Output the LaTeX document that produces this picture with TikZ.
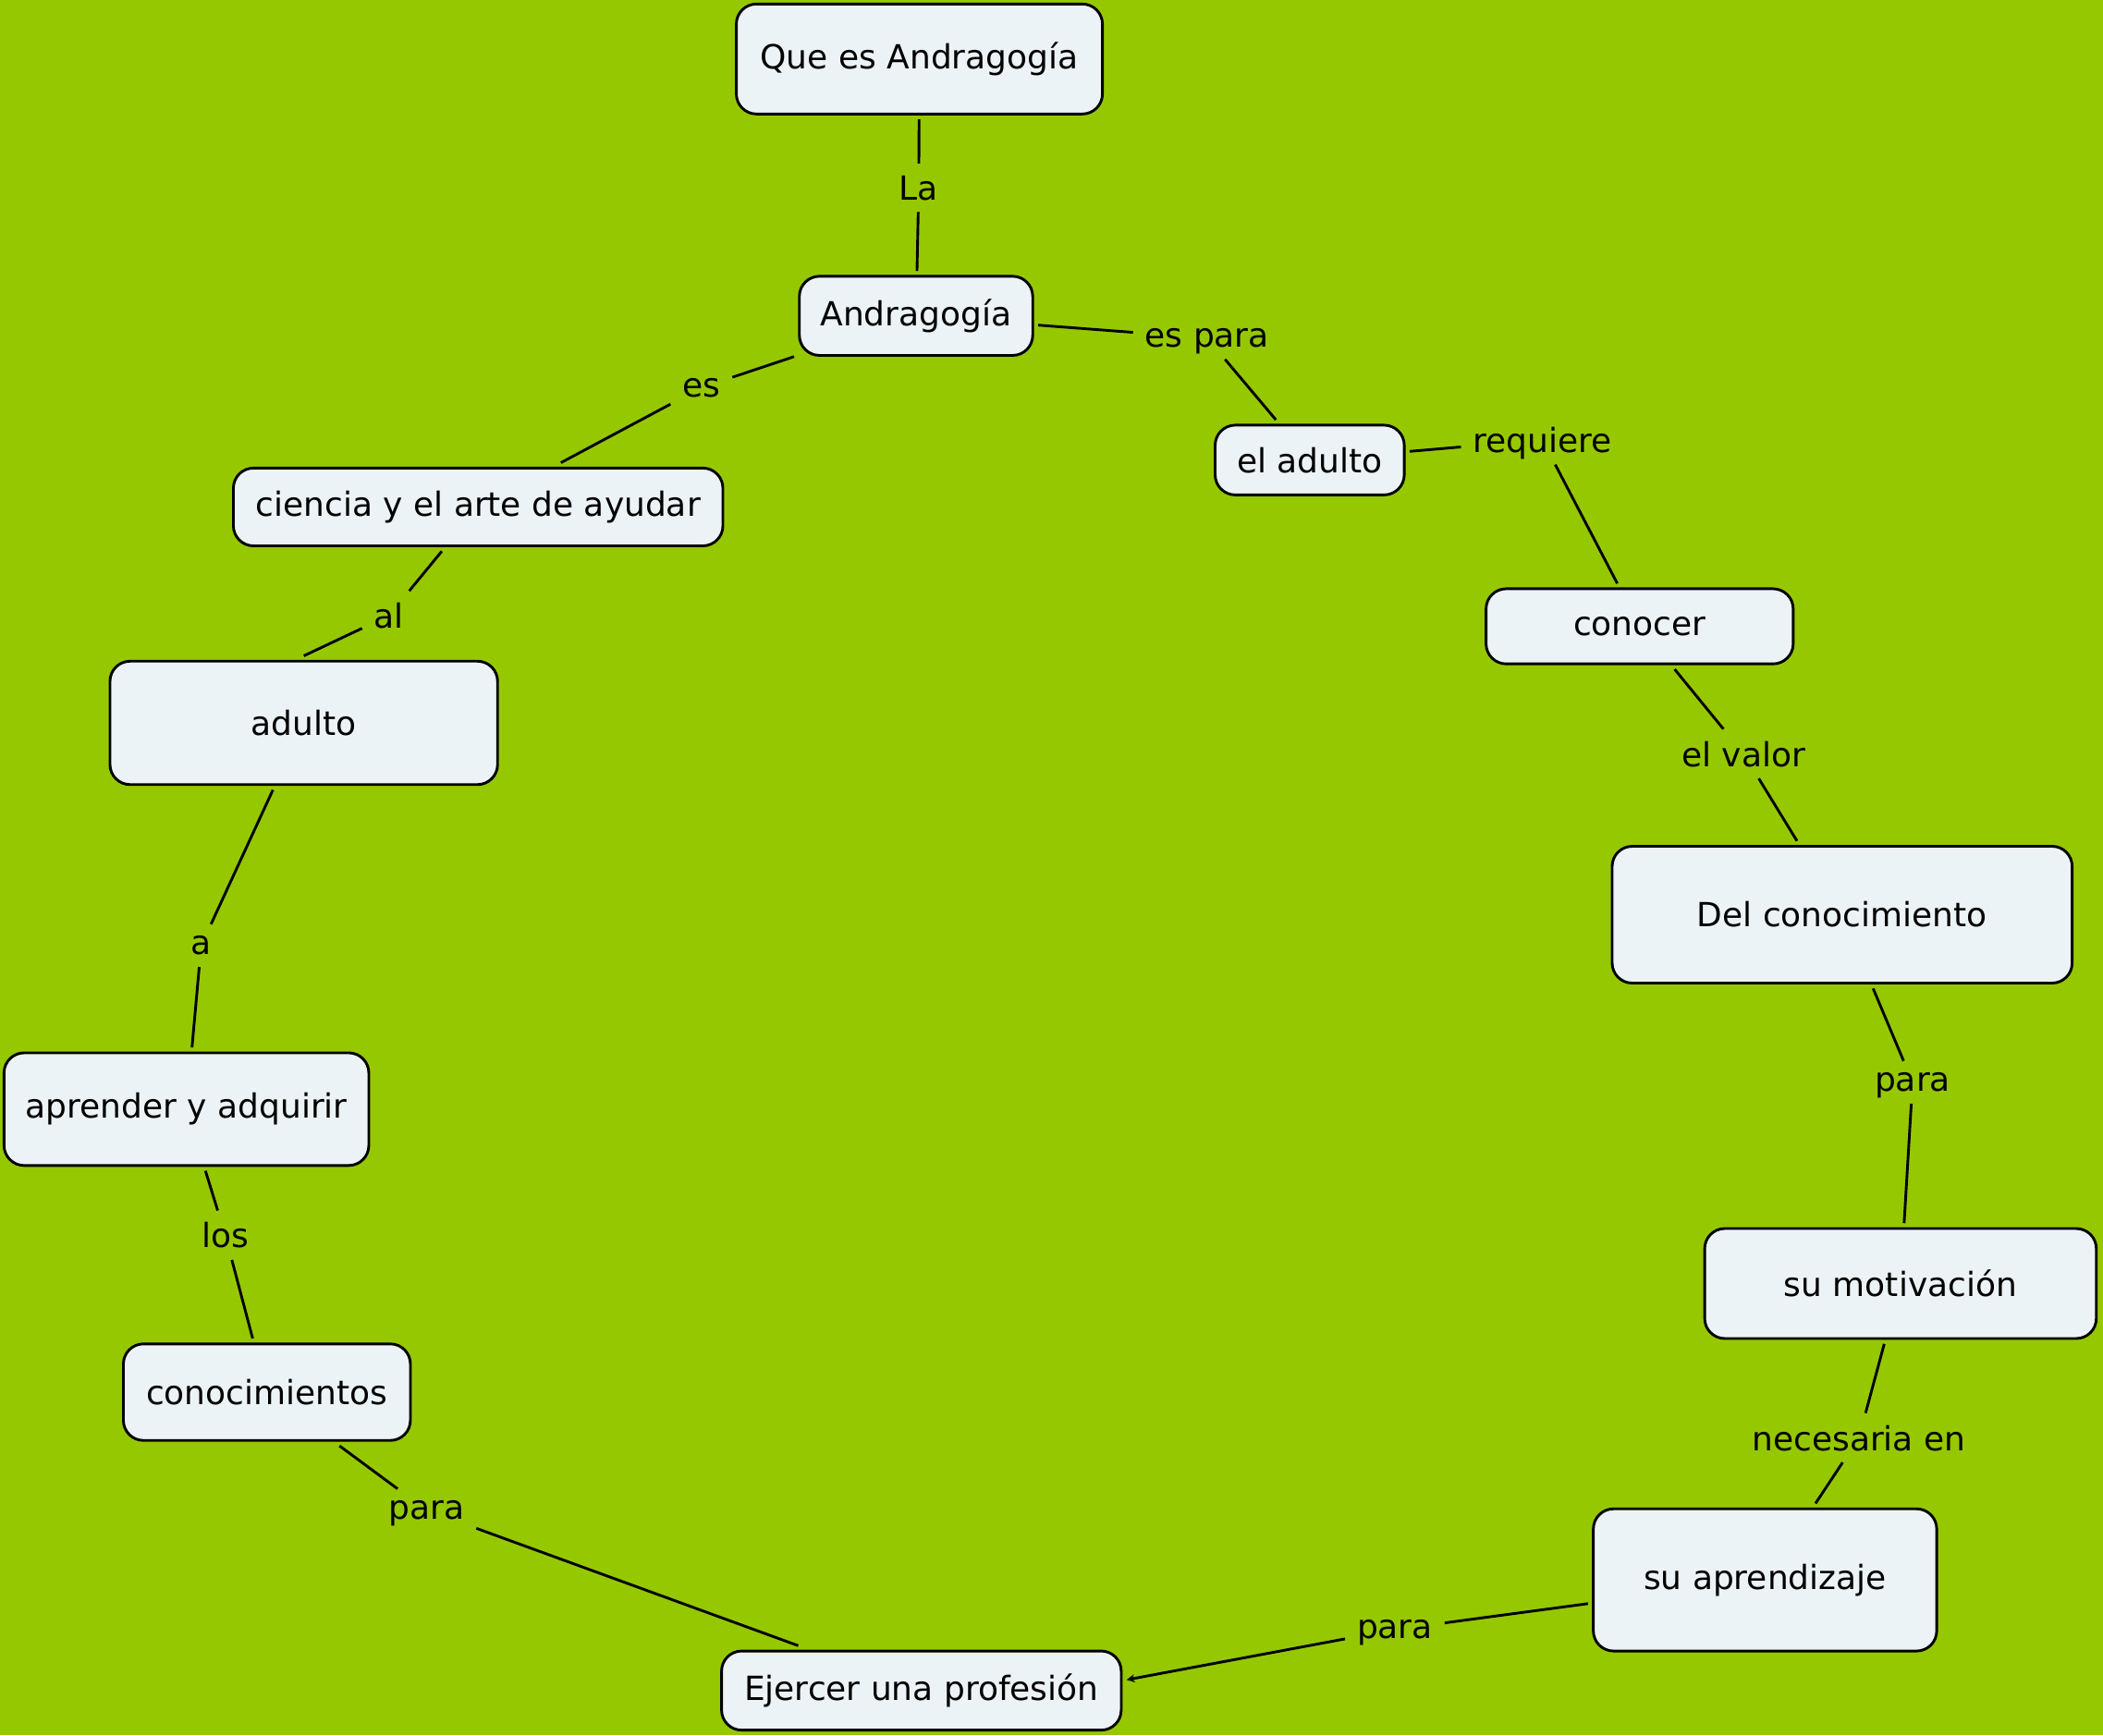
\documentclass[tikz,border=0pt]{standalone}
\usepackage{fontspec}
\setmainfont{DejaVu Sans}
\usetikzlibrary{arrows.meta}
\definecolor{bggreen}{RGB}{150,200,0}
\definecolor{boxfill}{RGB}{236,243,246}
\begin{document}
\begin{tikzpicture}[x=0.5pt,y=-0.5pt,
  concept/.style={draw=black,line width=1pt,fill=boxfill,rounded corners=7.5pt,
    align=center,inner sep=2pt,outer sep=2pt,font=\fontsize{12.4}{15}\selectfont},
  linklbl/.style={inner sep=1pt,outer sep=3.5pt,text depth=0pt,font=\fontsize{12.4}{15}\selectfont},
  conn/.style={line width=1pt}]
\fill[bggreen] (0,0) rectangle (1568,1294);
\useasboundingbox (0,0) rectangle (1568,1294);
% concepts
\node[concept,minimum width=136.5pt,minimum height=41pt] (q) at (685.5,44) {Que es Andragogía};
\node[concept,minimum width=87pt,minimum height=29.5pt] (andr) at (683,235.5) {Andragogía};
\node[concept,minimum width=182.5pt,minimum height=29pt] (cien) at (356.5,378) {ciencia y el arte de ayudar};
\node[concept,minimum width=70.5pt,minimum height=26pt] (eladu) at (976.5,343) {el adulto};
\node[concept,minimum width=114.5pt,minimum height=28pt] (cono) at (1222.5,467) {conocer};
\node[concept,minimum width=144.5pt,minimum height=46pt] (adu) at (226.5,539) {adulto};
\node[concept,minimum width=171.5pt,minimum height=51pt] (delc) at (1373.5,682) {Del conocimiento};
\node[concept,minimum width=136pt,minimum height=42pt] (apre) at (139,827) {aprender y adquirir};
\node[concept,minimum width=146pt,minimum height=41pt] (moti) at (1417,957) {su motivación};
\node[concept,minimum width=107pt,minimum height=36pt] (cmts) at (199,1038) {conocimientos};
\node[concept,minimum width=128pt,minimum height=53pt] (apz) at (1316,1178) {su aprendizaje};
\node[concept,minimum width=149pt,minimum height=29.5pt] (ejer) at (687,1260.5) {Ejercer una profesión};
% link labels
\node[linklbl] (lLa) at (685,140) {La};
\node[linklbl] (lEsPara) at (900,252) {es para};
\node[linklbl] (lEs) at (523,289) {es};
\node[linklbl] (lReq) at (1150,328) {requiere};
\node[linklbl] (lAl) at (290,459) {al};
\node[linklbl] (lValor) at (1300,562) {el valor};
\node[linklbl] (lA) at (150,705) {a};
\node[linklbl] (lPara1) at (1426,807) {para};
\node[linklbl] (lLos) at (168,921) {los};
\node[linklbl] (lNec) at (1386,1072) {necesaria en};
\node[linklbl] (lPara2) at (318,1126) {para};
\node[linklbl] (lPara3) at (1040,1215) {para};
% connectors
\draw[conn] (q) -- (lLa);
\draw[conn] (lLa) -- (andr);
\draw[conn] (andr) -- (lEsPara);
\draw[conn] (lEsPara) -- (eladu);
\draw[conn] (andr) -- (lEs);
\draw[conn] (lEs) -- (cien);
\draw[conn] (eladu) -- (lReq);
\draw[conn] (lReq) -- (cono);
\draw[conn] (cien) -- (lAl);
\draw[conn] (lAl) -- (adu.north);
\draw[conn] (cono) -- (lValor);
\draw[conn] (lValor) -- (delc);
\draw[conn] (adu) -- (lA);
\draw[conn] (lA) -- (apre);
\draw[conn] (delc) -- (lPara1);
\draw[conn] (lPara1) -- (moti);
\draw[conn] (apre) -- (lLos);
\draw[conn] (lLos) -- (cmts);
\draw[conn] (moti) -- (lNec);
\draw[conn] (lNec) -- (apz);
\draw[conn] (cmts) -- (lPara2);
\draw[conn] (lPara2) -- (ejer);
\draw[conn] (apz) -- (lPara3);
\draw[conn,-{Stealth[length=3pt,width=3pt]}] (lPara3) -- (ejer.3);
\end{tikzpicture}
\end{document}
